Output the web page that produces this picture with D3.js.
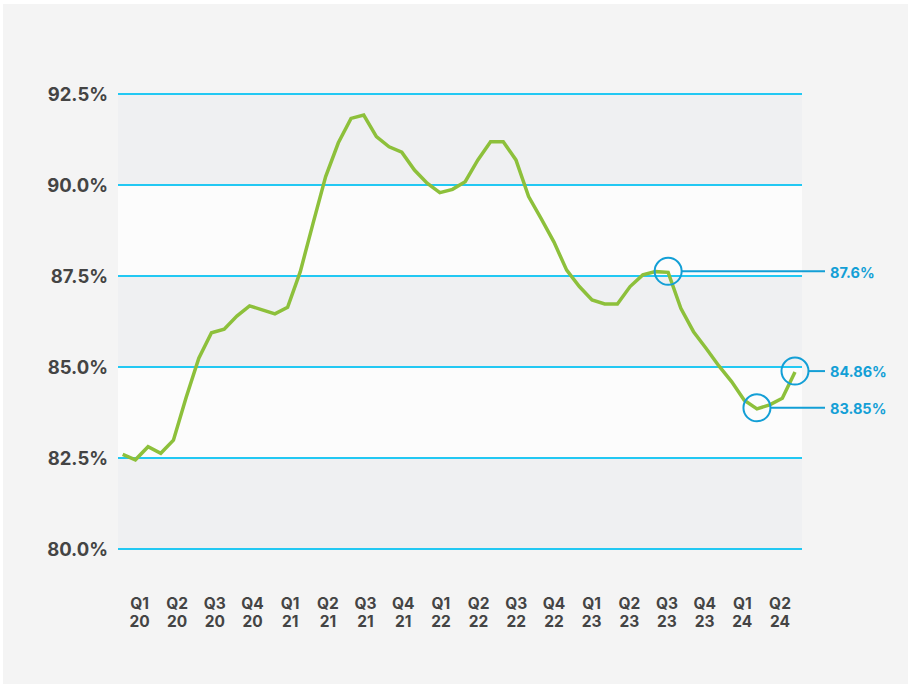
<!DOCTYPE html>
<html>
<head>
<meta charset="utf-8">
<script src="https://cdn.jsdelivr.net/npm/d3@7"></script>
<style>
  html, body { margin: 0; padding: 0; background: #ffffff; }
  svg { display: block; }
  text { font-family: Inter, "Open Sans", sans-serif; font-weight: 700; }
</style>
</head>
<body>
<div id="chart"></div>
<script>
// monthly values, Jan 2020 .. Jun 2024
const values = [
  82.60, 82.45, 82.81, 82.63, 82.99, 84.16, 85.24, 85.94, 86.04, 86.40, 86.68, 86.57,
  86.46, 86.64, 87.62, 88.94, 90.23, 91.16, 91.83, 91.92, 91.33, 91.05, 90.90, 90.41,
  90.05, 89.79, 89.88, 90.09, 90.69, 91.19, 91.19, 90.69, 89.68, 89.07, 88.43, 87.66,
  87.21, 86.84, 86.73, 86.73, 87.21, 87.53, 87.62, 87.60, 86.61, 85.97, 85.51, 85.03,
  84.60, 84.09, 83.85, 83.96, 84.14, 84.86
]
const quarterLabels = ["Q1","Q2","Q3","Q4","Q1","Q2","Q3","Q4","Q1","Q2","Q3","Q4","Q1","Q2","Q3","Q4","Q1","Q2"]
const yearLabels = ["20","20","20","20","21","21","21","21","22","22","22","22","23","23","23","23","24","24"]
const yTicks = [80, 82.5, 85, 87.5, 90, 92.5]
// index into values + label text
const callouts = [
  { i: 43, label: "87.6%" },
  { i: 53, label: "84.86%" },
  { i: 50, label: "83.85%" }
]

const W = 911, H = 687
const plot = { left: 118, right: 802, top: 94, bottom: 549 }

const svg = d3.select("#chart").append("svg")
    .attr("width", W)
    .attr("height", H)

svg.append("rect")
    .attr("x", 3).attr("y", 4)
    .attr("width", 905).attr("height", 680)
    .attr("fill", "#f4f4f4")

const x = d3.scaleLinear()
    .domain([0, values.length - 1])
    .range([122.7, 795])

const y = d3.scaleLinear()
    .domain([80, 92.5])
    .range([plot.bottom, plot.top])

const xq = d3.scalePoint()
    .domain(d3.range(quarterLabels.length))
    .range([139.5, 780])

// alternating bands
const bands = d3.pairs(yTicks)
svg.selectAll(".band")
  .data(bands)
  .join("rect")
    .attr("class", "band")
    .attr("x", plot.left)
    .attr("width", plot.right - plot.left)
    .attr("y", d => y(d[1]))
    .attr("height", d => y(d[0]) - y(d[1]))
    .attr("fill", (d, i) => i % 2 === 0 ? "#eff0f2" : "#fcfcfc")

// gridlines
svg.selectAll(".grid")
  .data(yTicks)
  .join("line")
    .attr("class", "grid")
    .attr("x1", plot.left).attr("x2", plot.right)
    .attr("y1", d => y(d)).attr("y2", d => y(d))
    .attr("stroke", "#22c8f3")
    .attr("stroke-width", 2)

// y labels
svg.selectAll(".ylab")
  .data(yTicks)
  .join("text")
    .attr("class", "ylab")
    .attr("x", 108)
    .attr("y", d => y(d))
    .attr("dy", "0.36em")
    .attr("text-anchor", "end")
    .attr("fill", "#444444")
    .attr("font-size", 18.5)
    .text(d => d.toFixed(1) + "%")

// x labels
const xl = svg.selectAll(".xlab")
  .data(quarterLabels)
  .join("text")
    .attr("class", "xlab")
    .attr("text-anchor", "middle")
    .attr("fill", "#444444")
    .attr("font-size", 15.5)
xl.append("tspan")
    .attr("x", (d, i) => xq(i))
    .attr("y", 609)
    .text(d => d)
xl.append("tspan")
    .attr("x", (d, i) => xq(i))
    .attr("y", 627)
    .text((d, i) => yearLabels[i])

// line
const line = d3.line()
    .x((d, i) => x(i))
    .y(d => y(d))

svg.append("path")
    .datum(values)
    .attr("d", line)
    .attr("fill", "none")
    .attr("stroke", "#8dc03b")
    .attr("stroke-width", 3.5)
    .attr("stroke-linejoin", "miter")

// callouts
const r = 13.5
const g = svg.selectAll(".callout")
  .data(callouts)
  .join("g")
    .attr("class", "callout")

g.append("line")
    .attr("x1", d => x(d.i) + r)
    .attr("x2", 825)
    .attr("y1", d => y(values[d.i]) - 1)
    .attr("y2", d => y(values[d.i]) - 1)
    .attr("stroke", "#139fd6")
    .attr("stroke-width", 2)

g.append("circle")
    .attr("cx", d => x(d.i))
    .attr("cy", d => y(values[d.i]) - 1)
    .attr("r", r)
    .attr("fill", "none")
    .attr("stroke", "#139fd6")
    .attr("stroke-width", 2)

g.append("text")
    .attr("x", 830)
    .attr("y", d => y(values[d.i]))
    .attr("dy", "0.36em")
    .attr("fill", "#139fd6")
    .attr("font-size", 14.5)
    .text(d => d.label)
</script>
</body>
</html>
